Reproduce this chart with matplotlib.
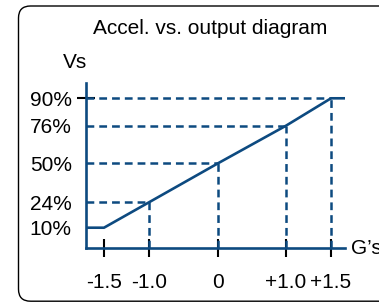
import numpy as np
import matplotlib
matplotlib.use('Agg')
import matplotlib.pyplot as plt
from matplotlib.patches import FancyBboxPatch

plt.rcParams['font.family'] = ['Liberation Sans', 'DejaVu Sans']
plt.rcParams['lines.scale_dashes'] = False

# data
g_values = [-1.5, -1.0, 0.0, 1.0, 1.5]
g_labels = ['-1.5', '-1.0', '0', '+1.0', '+1.5']
vs_values = [10, 24, 50, 76, 90]
vs_labels = ['10%', '24%', '50%', '76%', '90%']

navy = '#0d4a80'
W, H = 379, 302

# schematic (uneven) axes: piecewise linear scales, knots in pixels
x_knots = [-2.0, -1.5, -1.0, 0.0, 1.0, 1.5, 2.0]
x_pix = [59, 104, 149, 218, 286, 331, 376]
y_knots = [-10, 10, 24, 50, 76, 90, 110]
y_pix = [-16, 20.3, 45.7, 84.7, 122.3, 149.7, 189]  # height above x axis


def fx(x):
    return np.interp(x, x_knots, x_pix)


def fx_inv(p):
    return np.interp(p, x_pix, x_knots)


def fy(y):
    return np.interp(y, y_knots, y_pix)


def fy_inv(p):
    return np.interp(p, y_pix, y_knots)


fig = plt.figure(figsize=(W / 100, H / 100), dpi=100)

# rounded frame
frame = FancyBboxPatch((0.185, 0.008), 4.0, 2.952,
                       boxstyle='round,pad=0,rounding_size=0.12',
                       transform=fig.dpi_scale_trans, facecolor='none',
                       edgecolor='black', linewidth=1.0)
fig.patches.append(frame)

ax_left, ax_right, ax_bottom, ax_top = 86, 345, 248, 83
ax = fig.add_axes([ax_left / W, (H - ax_bottom) / H,
                   (ax_right - ax_left) / W, (ax_bottom - ax_top) / H])
ax.patch.set_visible(False)
ax.set_xscale('function', functions=(fx, fx_inv))
ax.set_yscale('function', functions=(fy, fy_inv))
xmin, xmax = float(fx_inv(ax_left)), float(fx_inv(ax_right))
ymin, ymax = float(fy_inv(0)), float(fy_inv(ax_bottom - ax_top))
ax.set_xlim(xmin, xmax)
ax.set_ylim(ymin, ymax)

# dashed guide lines
for g, v in zip(g_values[1:], vs_values[1:]):
    ax.plot([xmin, g], [v, v], color=navy, lw=1.8, dashes=(5.6, 3.6),
            zorder=2, clip_on=False)
    ax.plot([g, g], [ymin, v], color=navy, lw=1.8, dashes=(5.6, 3.6),
            zorder=2, clip_on=False)

# response curve
line_x = [xmin] + g_values + [xmax]
line_y = [vs_values[0]] + vs_values + [vs_values[-1]]
ax.plot(line_x, line_y, color=navy, lw=1.9, zorder=3, clip_on=False,
        solid_capstyle='butt')

for side in ['top', 'right']:
    ax.spines[side].set_visible(False)
for side in ['left', 'bottom']:
    ax.spines[side].set_color(navy)
    ax.spines[side].set_linewidth(1.9)
    ax.spines[side].set_zorder(4)

ax.set_xticks(g_values)
ax.set_xticklabels(g_labels)
ax.set_yticks(vs_values)
ax.set_yticklabels(vs_labels)
ax.minorticks_off()
ax.tick_params(axis='x', direction='inout', length=13.5, width=1.5,
               color='black', labelsize=15, pad=11)
ax.tick_params(axis='y', direction='inout', length=13.5, width=1.5,
               color='black', labelsize=15, pad=3.5)
for t in ax.yaxis.get_major_ticks()[:-1]:
    t.tick1line.set_visible(False)
for t in ax.xaxis.get_major_ticks() + ax.yaxis.get_major_ticks():
    t.tick1line.set_zorder(5)

ax.annotate('G\u2019s', xy=(1, 0), xycoords='axes fraction',
            xytext=(6, 0), textcoords='offset pixels',
            ha='left', va='center', fontsize=15)

fig.text(210 / W, 1 - 34 / H, 'Accel. vs. output diagram', ha='center',
         va='baseline', fontsize=15)
fig.text(63 / W, 1 - 68 / H, 'Vs', ha='left', va='baseline', fontsize=15)

fig.savefig('out.png', dpi=100)
